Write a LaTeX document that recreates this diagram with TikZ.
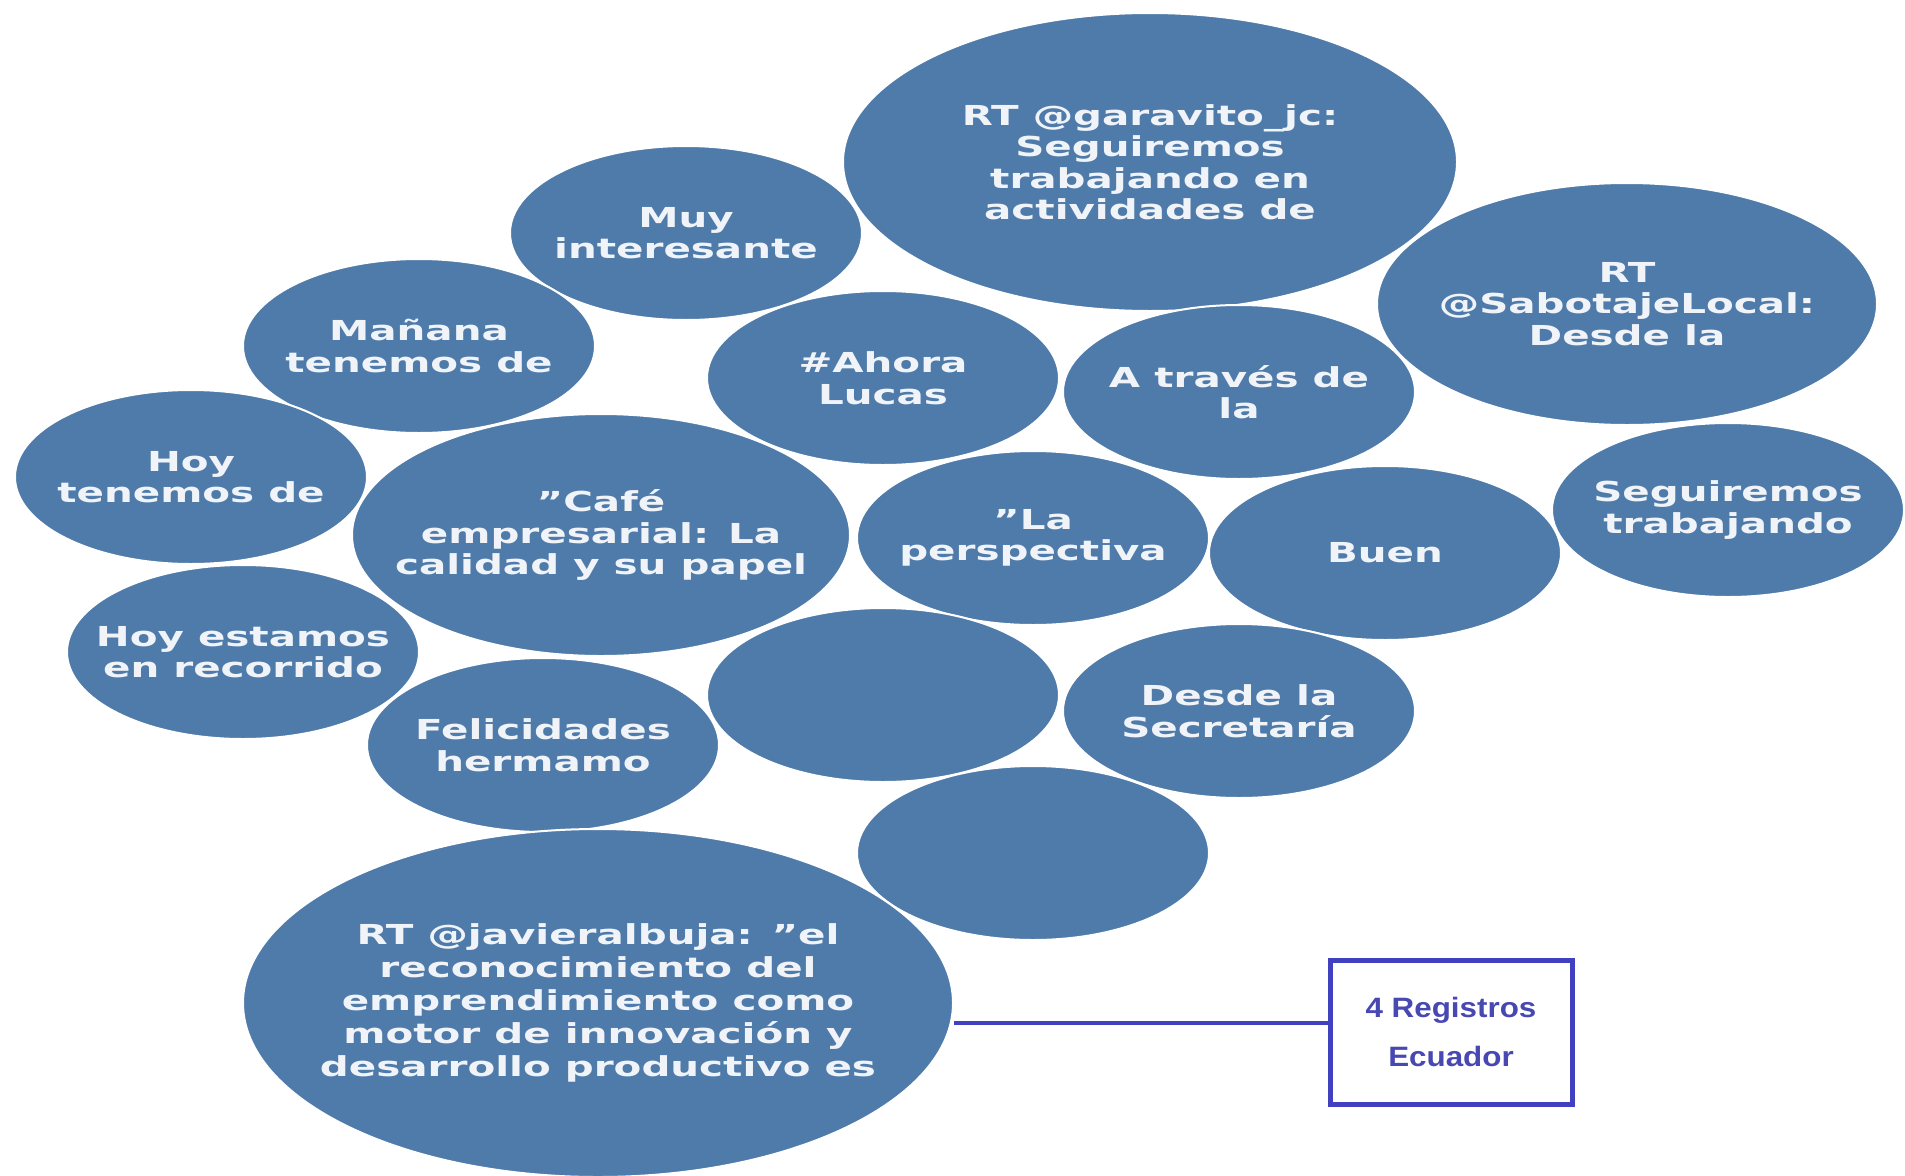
\documentclass[tikz,border=0pt]{standalone}
\usepackage{fontspec}
\usetikzlibrary{shapes.geometric}
\newfontfamily\bubblefont[FakeStretch=1.47]{DejaVu Sans Bold}
\newfontfamily\boxfont[FakeStretch=1.12]{Liberation Sans Bold}
\definecolor{bubblefill}{RGB}{79,123,170}
\definecolor{bubbletext}{RGB}{240,243,247}
\definecolor{boxblue}{RGB}{64,64,192}
\definecolor{boxtext}{RGB}{72,72,178}
\tikzset{
  bubble/.style={ellipse, fill=bubblefill, draw=white, line width=2pt, inner sep=0pt,
    minimum width=352pt, minimum height=174pt},
  btext/.style={align=center, text=bubbletext, inner sep=0pt,
    font=\bubblefont\fontsize{27.5}{31.5}\selectfont},
  regbox/.style={draw=boxblue, line width=5pt, fill=white, minimum width=242pt, minimum height=144pt,
    inner sep=0pt, align=center, text=boxtext, font=\boxfont\fontsize{28}{49}\selectfont},
  link/.style={draw=boxblue, line width=4pt}
}
\begin{document}
\begin{tikzpicture}[x=1pt,y=-1pt]
\useasboundingbox[fill=white] (0,0) rectangle (1905,1175);
\node[bubble, minimum width=614pt, minimum height=298pt, label={[btext]center:{RT @garavito\_jc:\\Seguiremos\\trabajando en\\actividades de}}] (gar) at (1150,162) {};
\node[bubble, label={[btext]center:{Muy\\interesante}}] (muy) at (686,233) {};
\node[bubble, minimum width=500pt, minimum height=242pt, label={[btext]center:{RT\\@SabotajeLocal:\\Desde la}}] (sab) at (1627,304) {};
\node[bubble, label={[btext]center:{Mañana\\tenemos de}}] (man) at (419,346) {};
\node[bubble, label={[btext]center:{\#Ahora\\Lucas}}] (aho) at (883,378) {};
\node[bubble, label={[btext]center:{A través de\\la}}] (atr) at (1239,392) {};
\node[bubble, label={[btext]center:{Hoy\\tenemos de}}] (hoy) at (191,477) {};
\node[bubble, minimum width=498pt, minimum height=242pt, label={[btext]center:{”Café\\empresarial: La\\calidad y su papel}}] (caf) at (601,535) {};
\node[bubble, label={[btext]center:{”La\\perspectiva}}] (per) at (1033,538) {};
\node[bubble, label={[btext]center:{Buen}}] (bue) at (1385,553) {};
\node[bubble, label={[btext]center:{Seguiremos\\trabajando}}] (seg) at (1728,510) {};
\node[bubble, label={[btext]center:{Hoy estamos\\en recorrido}}] (est) at (243,652) {};
\node[bubble] (em1) at (883,695) {};
\node[bubble, label={[btext]center:{Desde la\\Secretaría}}] (des) at (1239,711) {};
\node[bubble, label={[btext]center:{Felicidades\\hermamo}}] (fel) at (543,745) {};
\node[bubble] (em2) at (1033,853) {};
\node[bubble, minimum width=710pt, minimum height=348pt, label={[btext, font=\bubblefont\fontsize{27.5}{33}\selectfont]center:{RT @javieralbuja: ”el\\reconocimiento del\\emprendimiento como\\motor de innovación y\\desarrollo productivo es}}] (jav) at (598,1003) {};
\node[regbox] (reg) at (1451,1032) {4 Registros\\Ecuador};
\draw[link] ([yshift=9pt]reg.west) -- ([yshift=9pt]reg.west -| jav.east);
\end{tikzpicture}
\end{document}
